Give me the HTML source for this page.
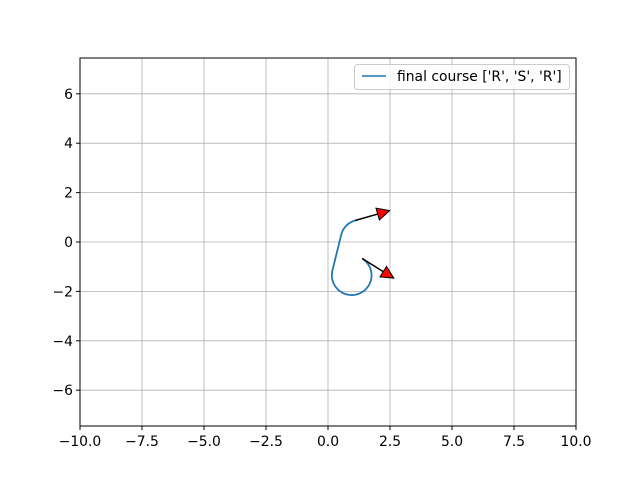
<!DOCTYPE html>
<html><head><meta charset="utf-8"><style>
body{margin:0;background:#fff}
svg text{font-family:"DejaVu Sans","Liberation Sans",sans-serif;font-size:13.9px;fill:#000}
</style></head><body>
<svg width="640" height="480">
<rect width="640" height="480" fill="#fff"/>
<g id="grid"></g>
<g id="ticks"></g>
<g id="plot"></g>
<rect x="80" y="58" width="496" height="368" fill="none" stroke="#000" stroke-width="1"/>
<g>
<rect x="354.5" y="64.5" width="215" height="25" rx="3" fill="#fff" fill-opacity="0.8" stroke="#ccc"/>
<line x1="362" y1="76" x2="386" y2="76" stroke="#1f77b4" stroke-width="1.6"/>
<text x="397" y="81">final course ['R', 'S', 'R']</text>
</g>
</svg>
<script>
const xTicks=[-10,-7.5,-5,-2.5,0,2.5,5,7.5,10];
const yTicks=[-6,-4,-2,0,2,4,6];
const startPose=[1.38,-0.67,-32];
const endPose=[1.09,0.87,16];
const turnRadius=0.8;
const arrowLen=[1.5,1.45];
const NS='http://www.w3.org/2000/svg';
const X0=80,X1=576,Y0=58,Y1=426,xmin=-10,xmax=10,ymin=-7.45,ymax=7.45;
const sx=v=>X0+(v-xmin)/(xmax-xmin)*(X1-X0);
const sy=v=>Y1-(v-ymin)/(ymax-ymin)*(Y1-Y0);
function mk(tag,attrs,parent){const e=document.createElementNS(NS,tag);for(const k in attrs)e.setAttribute(k,attrs[k]);parent.appendChild(e);return e;}
const grid=document.getElementById('grid'),ticks=document.getElementById('ticks'),plot=document.getElementById('plot');
xTicks.forEach(t=>{const x=sx(t);
 const g=mk('line',{x1:x,x2:x,y1:Y0,y2:Y1,stroke:'#b0b0b0','stroke-width':0.8},grid);
 
 
 mk('line',{x1:x,x2:x,y1:Y1,y2:Y1+4,stroke:'#000'},ticks);
 const tx=mk('text',{x:x,y:Y1+20,'text-anchor':'middle'},ticks);tx.textContent=(t<0?'\u2212':'')+Math.abs(t).toFixed(1);
 
 });
yTicks.forEach(t=>{const y=sy(t);
 const g=mk('line',{x1:X0,x2:X1,y1:y,y2:y,stroke:'#b0b0b0','stroke-width':0.8},grid);
 
 
 mk('line',{x1:X0-4,x2:X0,y1:y,y2:y,stroke:'#000'},ticks);
 const tx=mk('text',{x:X0-7,y:y+5,'text-anchor':'end'},ticks);tx.textContent=(t<0?'\u2212':'')+Math.abs(t);
 
 });
const r=turnRadius,rad=d=>d*Math.PI/180;
const [x0,y0,h0]=[startPose[0],startPose[1],rad(startPose[2])];
const [x1,y1,h1]=[endPose[0],endPose[1],rad(endPose[2])];
const c1=[x0+r*Math.sin(h0),y0-r*Math.cos(h0)],c2=[x1+r*Math.sin(h1),y1-r*Math.cos(h1)];
const hs=Math.atan2(c2[1]-c1[1],c2[0]-c1[0]);
const norm=a=>{while(a<0)a+=2*Math.PI;while(a>=2*Math.PI)a-=2*Math.PI;return a;};
const pts=[];
let a1=norm(h0-hs);
for(let i=0;i<=60;i++){const h=h0-a1*i/60;pts.push([c1[0]-r*Math.sin(h),c1[1]+r*Math.cos(h)]);}
let a2=norm(hs-h1);
for(let i=0;i<=30;i++){const h=hs-a2*i/30;pts.push([c2[0]-r*Math.sin(h),c2[1]+r*Math.cos(h)]);}
const p=mk('path',{d:pts.map((q,i)=>(i?'L':'M')+sx(q[0]).toFixed(1)+','+sy(q[1]).toFixed(1)).join(''),fill:'none',stroke:'#1f77b4','stroke-width':1.8},plot);


function arrow(x,y,h,L,name){
 const hl=0.5,hw=0.25,ux=Math.cos(h),uy=Math.sin(h);
 const bx=x+ux*(L-hl),by=y+uy*(L-hl),tx=x+ux*L,ty=y+uy*L;
 const l=mk('line',{x1:sx(x),y1:sy(y),x2:sx(bx),y2:sy(by),stroke:'#000','stroke-width':1.5},plot);
 
 
 const pg=mk('polygon',{points:[[tx,ty],[bx-uy*hw,by+ux*hw],[bx+uy*hw,by-ux*hw]].map(q=>sx(q[0])+','+sy(q[1])).join(' '),fill:'#f00',stroke:'#000','stroke-width':1},plot);
 
 
}
arrow(x0,y0,h0,arrowLen[0],'start-arrow');
arrow(x1,y1,h1,arrowLen[1],'end-arrow');
</script>
</body></html>
